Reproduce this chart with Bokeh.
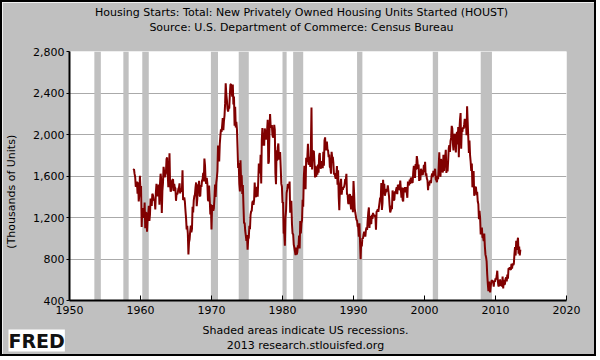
from bokeh.plotting import figure
from bokeh.models import Range1d, FixedTicker, NumeralTickFormatter, Title
from bokeh.embed import file_html
from bokeh.resources import INLINE

# ---------------- data (thousands of units, SAAR, monthly) ----------------
FIRST_YEAR = 1959  # series starts January 1959

starts_1959_1969 = [
    1657, 1667, 1620, 1590, 1498, 1503, 1547, 1430, 1540, 1355, 1416, 1601,
    1460, 1503, 1109, 1289, 1271, 1247, 1197, 1344, 1097, 1246, 1246, 1063,
    1183, 1226, 1312, 1166, 1228, 1382, 1335, 1312, 1429, 1415, 1385, 1365,
    1361, 1278, 1443, 1524, 1483, 1404, 1450, 1517, 1324, 1533, 1622, 1564,
    1244, 1456, 1534, 1689, 1641, 1588, 1614, 1639, 1763, 1779, 1622, 1491,
    1603, 1820, 1517, 1448, 1467, 1550, 1562, 1569, 1455, 1524, 1486, 1484,
    1361, 1433, 1423, 1438, 1478, 1488, 1529, 1432, 1482, 1452, 1460, 1656,
    1370, 1378, 1394, 1352, 1265, 1194, 1086, 1119, 1046, 843, 961, 990,
    1067, 1123, 1056, 1091, 1304, 1248, 1364, 1407, 1421, 1491, 1538, 1308,
    1380, 1520, 1466, 1554, 1408, 1405, 1512, 1495, 1556, 1569, 1630, 1548,
    1769, 1705, 1561, 1524, 1583, 1528, 1368, 1358, 1507, 1381, 1229, 1327,
]
starts_1970_1979 = [
    1085, 1305, 1319, 1264, 1290, 1385, 1517, 1399, 1534, 1580, 1647, 1893,
    1828, 1741, 1910, 1986, 2049, 2026, 2083, 2158, 2041, 2128, 2182, 2295,
    2494, 2390, 2334, 2249, 2221, 2254, 2252, 2382, 2481, 2485, 2421, 2366,
    2481, 2289, 2365, 2084, 2266, 2067, 2123, 2051, 1874, 1677, 1724, 1526,
    1451, 1752, 1555, 1607, 1426, 1513, 1316, 1142, 1150, 1070, 1026, 975,
    1032, 890, 993, 1005, 1121, 1087, 1226, 1260, 1264, 1344, 1360, 1321,
    1367, 1538, 1421, 1395, 1459, 1495, 1401, 1550, 1720, 1629, 1641, 1804,
    1527, 1943, 2063, 1892, 1971, 1893, 2058, 2020, 1949, 2042, 2042, 2142,
    1718, 1738, 2032, 2197, 2075, 2070, 2092, 1996, 1970, 1981, 2094, 2044,
    1630, 1520, 1847, 1748, 1876, 1913, 1760, 1778, 1832, 1681, 1524, 1498,
]
starts_1980_1989 = [
    1341, 1350, 1047, 1051, 927, 1196, 1269, 1436, 1471, 1523, 1510, 1482,
    1547, 1246, 1306, 1360, 1140, 1045, 1041, 940, 911, 873, 837, 910,
    843, 866, 931, 917, 1025, 902, 1166, 1046, 1144, 1173, 1372, 1303,
    1586, 1699, 1606, 1472, 1776, 1733, 1785, 1910, 1710, 1715, 1785, 1688,
    1897, 2260, 1663, 1851, 1774, 1843, 1732, 1586, 1698, 1590, 1689, 1612,
    1711, 1632, 1800, 1821, 1680, 1676, 1684, 1743, 1676, 1834, 1698, 1942,
    1972, 1848, 1876, 1933, 1854, 1847, 1782, 1807, 1687, 1681, 1623, 1833,
    1774, 1784, 1726, 1614, 1628, 1594, 1575, 1605, 1695, 1515, 1656, 1400,
    1271, 1473, 1532, 1573, 1421, 1478, 1467, 1493, 1492, 1522, 1569, 1563,
    1621, 1425, 1422, 1339, 1331, 1397, 1427, 1332, 1279, 1410, 1351, 1251,
]
starts_1990_1999 = [
    1551, 1437, 1289, 1248, 1212, 1177, 1171, 1115, 1110, 1014, 1145, 969,
    798, 965, 921, 1001, 996, 1036, 1063, 1049, 1015, 1079, 1103, 1079,
    1176, 1250, 1297, 1099, 1214, 1145, 1139, 1226, 1186, 1244, 1214, 1227,
    1210, 1210, 1083, 1258, 1260, 1280, 1254, 1300, 1343, 1392, 1376, 1533,
    1272, 1337, 1564, 1465, 1526, 1409, 1439, 1450, 1474, 1450, 1511, 1455,
    1407, 1316, 1249, 1267, 1314, 1281, 1461, 1416, 1369, 1369, 1452, 1431,
    1467, 1491, 1424, 1516, 1504, 1467, 1472, 1557, 1475, 1392, 1489, 1370,
    1355, 1486, 1457, 1492, 1442, 1494, 1437, 1390, 1546, 1520, 1510, 1566,
    1525, 1584, 1567, 1540, 1536, 1641, 1698, 1614, 1582, 1715, 1660, 1792,
    1748, 1670, 1710, 1553, 1611, 1559, 1669, 1648, 1635, 1608, 1648, 1708,
]
starts_2000_2013 = [
    1636, 1737, 1604, 1626, 1575, 1559, 1463, 1541, 1507, 1549, 1551, 1532,
    1600, 1625, 1590, 1649, 1605, 1636, 1670, 1567, 1562, 1540, 1602, 1568,
    1698, 1829, 1642, 1592, 1764, 1717, 1655, 1633, 1804, 1648, 1753, 1788,
    1853, 1629, 1726, 1643, 1751, 1867, 1897, 1833, 1939, 1967, 2083, 2057,
    1911, 1846, 1998, 2003, 1981, 1828, 2002, 2024, 1905, 2072, 1782, 2042,
    2144, 2207, 1864, 2061, 2025, 2068, 2054, 2095, 2151, 2065, 2147, 1994,
    2273, 2119, 1969, 1821, 1942, 1802, 1737, 1650, 1720, 1491, 1570, 1649,
    1409, 1480, 1495, 1490, 1415, 1448, 1354, 1330, 1183, 1264, 1197, 1037,
    1084, 1103, 1005, 1013, 973, 1046, 923, 844, 820, 777, 652, 560,
    490, 582, 505, 478, 540, 585, 594, 586, 585, 534, 588, 581,
    614, 604, 636, 687, 583, 536, 546, 599, 594, 543, 545, 539,
    630, 517, 600, 554, 561, 608, 623, 585, 650, 610, 711, 697,
    720, 704, 695, 753, 708, 757, 740, 754, 847, 915, 833, 976,
    888, 962, 1005, 852, 919, 835, 891,
]

# NBER recessions (year, month) start / end
rec_start = [(1953, 7), (1957, 8), (1960, 4), (1969, 12), (1973, 11),
             (1980, 1), (1981, 7), (1990, 7), (2001, 3), (2007, 12)]
rec_end = [(1954, 5), (1958, 4), (1961, 2), (1970, 11), (1975, 3),
           (1980, 7), (1982, 11), (1991, 3), (2001, 11), (2009, 6)]

x_ticks = [1950, 1960, 1970, 1980, 1990, 2000, 2010, 2020]
y_ticks = [400, 800, 1200, 1600, 2000, 2400, 2800]

title_1 = "Housing Starts: Total: New Privately Owned Housing Units Started (HOUST)"
title_2 = "Source: U.S. Department of Commerce: Census Bureau"
y_label = "(Thousands of Units)"
note_1 = "Shaded areas indicate US recessions."
note_2 = "2013 research.stlouisfed.org"
logo = "FRED"

# ---------------- build ----------------
values = starts_1959_1969 + starts_1970_1979 + starts_1980_1989 + starts_1990_1999 + starts_2000_2013
xs = [FIRST_YEAR + i / 12.0 for i in range(len(values))]

rec_left = [y + (m - 1) / 12.0 for (y, m) in rec_start]
rec_right = [y + m / 12.0 for (y, m) in rec_end]

BG = "#c0c0c0"
FONT = "DejaVu Sans"
FRAME_LEFT = 66


def text_width(s, size, bold=False):
    try:
        from PIL import ImageFont
        f = ImageFont.truetype("DejaVuSans-Bold.ttf" if bold else "DejaVuSans.ttf", size)
        return f.getlength(s)
    except Exception:
        return len(s) * size * 0.58


p = figure(width=596, height=356, output_backend="svg", toolbar_location=None,
           x_range=Range1d(x_ticks[0], x_ticks[-1]), y_range=Range1d(y_ticks[0], y_ticks[-1]),
           background_fill_color="white", border_fill_color=BG,
           min_border_left=FRAME_LEFT, min_border_right=32, min_border_top=49, min_border_bottom=58,
           outline_line_color=None,
           styles={"border": "2px solid black"})

p.xgrid.visible = False
p.ygrid.ticker = FixedTicker(ticks=y_ticks)
p.ygrid.grid_line_color = "#aaaaaa"
p.ygrid.grid_line_width = 1

p.quad(left=rec_left, right=rec_right, bottom=y_ticks[0], top=y_ticks[-1],
       fill_color=BG, line_color=None)

p.line(xs, values, line_color="#800000", line_width=2)

for ax in (p.xaxis[0], p.yaxis[0]):
    ax.axis_line_color = "black"
    ax.axis_line_width = 2
    ax.major_tick_line_color = "black"
    ax.minor_tick_line_color = None
    ax.major_label_text_font = FONT
    ax.major_label_text_font_size = "11px"
    ax.major_label_text_color = "black"

p.xaxis.ticker = FixedTicker(ticks=x_ticks)
p.xaxis.major_tick_in = 5
p.xaxis.major_tick_out = 0
p.xaxis.major_label_standoff = 5

p.yaxis.ticker = FixedTicker(ticks=y_ticks)
p.yaxis.formatter = NumeralTickFormatter(format="0,0")
p.yaxis.major_tick_in = 0
p.yaxis.major_tick_out = 3
p.yaxis.major_label_standoff = 2
# trailing no-break spaces shift the centred, rotated label downwards as in the original
p.yaxis.axis_label = y_label + "\u00a0" * 9
p.yaxis.axis_label_text_font = FONT
p.yaxis.axis_label_text_font_size = "11px"
p.yaxis.axis_label_text_font_style = "normal"
p.yaxis.axis_label_text_color = "black"
p.yaxis.axis_label_standoff = 12


def ttl(text, center=None, standoff=0, size=11, bold=False, font=FONT, color="black",
        left=None, valign="middle", **kw):
    if left is None:
        left = center - text_width(text, size, bold) / 2.0
    return Title(text=text, align="left", vertical_align=valign,
                 offset=left - FRAME_LEFT, standoff=standoff,
                 text_font=font, text_font_size=f"{size}px",
                 text_font_style="bold" if bold else "normal",
                 text_color=color, **kw)


# above: closest to the frame first
p.add_layout(Title(text=" ", standoff=3, text_font_size="11px"), "above")      # spacer
p.add_layout(ttl(title_2, center=298), "above")
p.add_layout(ttl(title_1, center=298), "above")

# below: after the x axis
p.add_layout(Title(text=" ", standoff=0, text_font_size="1px"), "below")      # spacer
p.add_layout(ttl(note_1, center=302, standoff=7), "below")
p.add_layout(ttl(logo, left=5, size=19, bold=True, standoff=-24, valign="top",
                 color="#111111", background_fill_color="white"), "below")
p.add_layout(ttl(note_2, center=302, standoff=-7), "below")

open("out.html", "w").write(file_html(p, INLINE))
